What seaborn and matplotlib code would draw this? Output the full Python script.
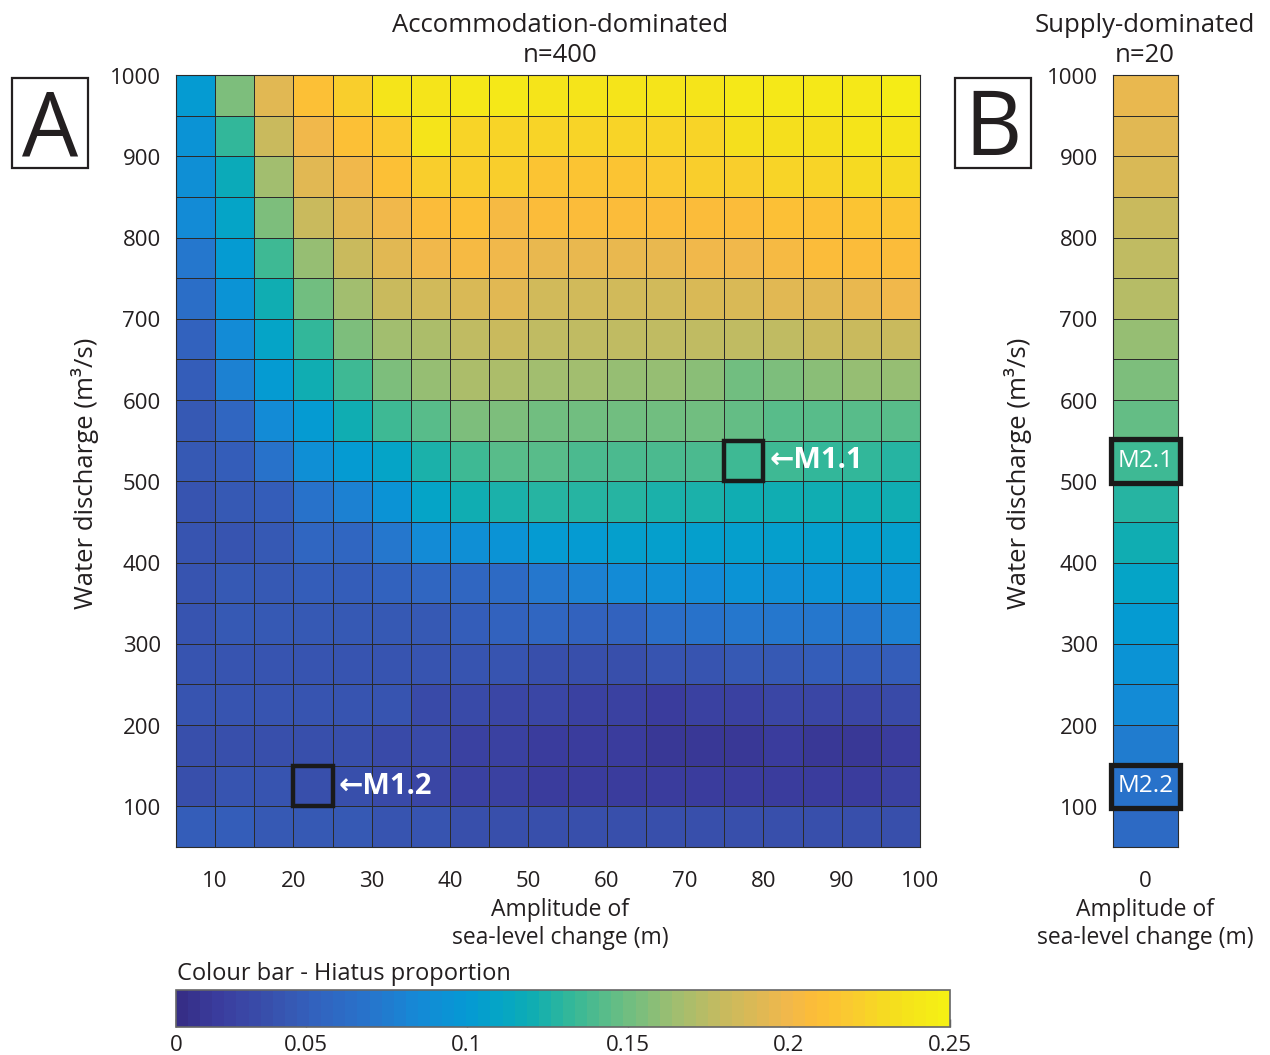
import numpy as np
import pandas as pd
import matplotlib
matplotlib.use("Agg")
import matplotlib.pyplot as plt
import matplotlib.transforms as mtransforms
from matplotlib.colors import LinearSegmentedColormap
from matplotlib.patches import Rectangle
import seaborn as sns

# ---------------- data ----------------
amplitude_edges = [5, 10, 15, 20, 25, 30, 35, 40, 45, 50, 55, 60, 65, 70, 75, 80, 85, 90, 95, 100]
discharge_edges = [1000, 950, 900, 850, 800, 750, 700, 650, 600, 550, 500, 450, 400, 350, 300, 250, 200, 150, 100, 50]
amplitude_ticks = [10, 20, 30, 40, 50, 60, 70, 80, 90, 100]
discharge_ticks = [1000, 900, 800, 700, 600, 500, 400, 300, 200, 100]

# Hiatus proportion, panel A (rows: 1000 -> 50 m3/s, cols: 5 -> 100 m)
hiatus_A = [
    [0.100, 0.155, 0.190, 0.210, 0.222, 0.235, 0.236, 0.240, 0.240, 0.238, 0.237, 0.236, 0.237, 0.238, 0.240, 0.240, 0.240, 0.241, 0.245],
    [0.093, 0.132, 0.180, 0.200, 0.210, 0.218, 0.235, 0.226, 0.226, 0.225, 0.226, 0.226, 0.226, 0.226, 0.232, 0.234, 0.234, 0.236, 0.238],
    [0.090, 0.115, 0.167, 0.190, 0.200, 0.210, 0.220, 0.220, 0.220, 0.215, 0.215, 0.216, 0.218, 0.220, 0.222, 0.224, 0.225, 0.228, 0.230],
    [0.085, 0.110, 0.155, 0.180, 0.190, 0.200, 0.205, 0.210, 0.203, 0.205, 0.205, 0.205, 0.208, 0.208, 0.208, 0.210, 0.212, 0.214, 0.215],
    [0.070, 0.103, 0.137, 0.163, 0.180, 0.190, 0.200, 0.202, 0.200, 0.196, 0.196, 0.196, 0.197, 0.198, 0.200, 0.202, 0.205, 0.205, 0.205],
    [0.065, 0.093, 0.120, 0.150, 0.167, 0.180, 0.183, 0.188, 0.190, 0.186, 0.185, 0.185, 0.186, 0.187, 0.188, 0.190, 0.193, 0.195, 0.198],
    [0.052, 0.085, 0.108, 0.132, 0.155, 0.167, 0.170, 0.177, 0.180, 0.176, 0.175, 0.175, 0.175, 0.176, 0.177, 0.178, 0.179, 0.180, 0.182],
    [0.048, 0.078, 0.100, 0.120, 0.137, 0.155, 0.163, 0.168, 0.170, 0.167, 0.165, 0.163, 0.160, 0.158, 0.152, 0.155, 0.157, 0.160, 0.163],
    [0.044, 0.058, 0.085, 0.103, 0.120, 0.137, 0.143, 0.155, 0.155, 0.152, 0.152, 0.152, 0.152, 0.150, 0.146, 0.142, 0.142, 0.143, 0.143],
    [0.044, 0.050, 0.066, 0.090, 0.100, 0.110, 0.125, 0.137, 0.143, 0.143, 0.141, 0.140, 0.140, 0.138, 0.137, 0.135, 0.132, 0.130, 0.127],
    [0.043, 0.045, 0.050, 0.066, 0.078, 0.093, 0.110, 0.120, 0.125, 0.128, 0.128, 0.127, 0.126, 0.125, 0.122, 0.120, 0.120, 0.120, 0.120],
    [0.043, 0.043, 0.047, 0.056, 0.058, 0.070, 0.085, 0.090, 0.093, 0.100, 0.103, 0.104, 0.104, 0.104, 0.105, 0.105, 0.105, 0.105, 0.105],
    [0.043, 0.044, 0.046, 0.049, 0.049, 0.051, 0.056, 0.058, 0.062, 0.070, 0.078, 0.085, 0.090, 0.088, 0.093, 0.092, 0.093, 0.093, 0.093],
    [0.041, 0.044, 0.045, 0.046, 0.046, 0.046, 0.046, 0.048, 0.054, 0.056, 0.051, 0.054, 0.065, 0.066, 0.070, 0.070, 0.072, 0.073, 0.078],
    [0.041, 0.042, 0.042, 0.042, 0.042, 0.042, 0.042, 0.042, 0.040, 0.038, 0.036, 0.036, 0.040, 0.042, 0.045, 0.047, 0.048, 0.050, 0.050],
    [0.040, 0.042, 0.042, 0.042, 0.042, 0.041, 0.035, 0.033, 0.030, 0.029, 0.027, 0.026, 0.024, 0.027, 0.028, 0.029, 0.030, 0.032, 0.034],
    [0.039, 0.039, 0.039, 0.039, 0.037, 0.035, 0.033, 0.028, 0.026, 0.023, 0.021, 0.021, 0.020, 0.020, 0.020, 0.021, 0.020, 0.020, 0.021],
    [0.039, 0.040, 0.040, 0.039, 0.038, 0.035, 0.030, 0.028, 0.026, 0.023, 0.022, 0.021, 0.021, 0.021, 0.021, 0.021, 0.022, 0.023, 0.025],
    [0.050, 0.048, 0.046, 0.046, 0.044, 0.042, 0.040, 0.038, 0.037, 0.037, 0.037, 0.036, 0.037, 0.037, 0.037, 0.038, 0.038, 0.039, 0.039],
]

# Hiatus proportion, panel B (amplitude 0 m, rows 1000 -> 50 m3/s)
amplitude_B = ["0"]
hiatus_B = [0.195, 0.192, 0.188, 0.182, 0.178, 0.172, 0.163, 0.155, 0.148, 0.137,
            0.127, 0.120, 0.110, 0.100, 0.093, 0.085, 0.077, 0.068, 0.060]

cbar_ticks = [0.0096, 0.05, 0.10, 0.15, 0.20, 0.25]
cbar_labels = ["0", "0.05", "0.1", "0.15", "0.2", "0.25"]

# ---------------- style ----------------
sns.set_theme(style="white")
plt.rcParams["font.family"] = ["Open Sans", "DejaVu Sans"]
TXT = "#231f20"

anchor_pos = [0.0, 0.05, 0.12, 0.17, 0.25, 0.31, 0.375, 0.42, 0.46, 0.51, 0.58,
              0.645, 0.71, 0.79, 0.83, 0.875, 0.94, 1.0]
anchor_col = [(0.21, 0.18, 0.53), (0.23, 0.24, 0.62), (0.22, 0.32, 0.68), (0.20, 0.38, 0.74),
              (0.15, 0.46, 0.80), (0.08, 0.54, 0.84), (0.02, 0.60, 0.83), (0.02, 0.65, 0.77),
              (0.06, 0.68, 0.70), (0.20, 0.72, 0.60), (0.42, 0.745, 0.51), (0.62, 0.745, 0.44),
              (0.78, 0.73, 0.37), (0.94, 0.72, 0.30), (0.99, 0.74, 0.22), (0.98, 0.79, 0.19),
              (0.96, 0.88, 0.11), (0.96, 0.94, 0.08)]
cmap = LinearSegmentedColormap.from_list("parula_print", list(zip(anchor_pos, anchor_col)), N=64)
vmin, vmax = cbar_ticks[0], cbar_ticks[-1]

W, H = 1270, 1055
fig = plt.figure(figsize=(W / 100, H / 100), dpi=100)
fig.patch.set_facecolor("white")


def rect(l, t, r, b):
    return [l / W, 1 - b / H, (r - l) / W, (b - t) / H]


def fy(y):
    return 1 - y / H


dfA = pd.DataFrame(hiatus_A, index=discharge_edges[1:], columns=amplitude_edges[:-1])
dfB = pd.DataFrame({amplitude_B[0]: hiatus_B}, index=discharge_edges[1:])

axA = fig.add_axes(rect(176, 75, 920, 847))
cax = fig.add_axes(rect(176, 990, 950, 1027))
axB = fig.add_axes(rect(1113, 75, 1178, 847))

sns.heatmap(dfA, ax=axA, cmap=cmap, vmin=vmin, vmax=vmax, linewidths=0.7,
            linecolor="#2b2b2b", cbar_ax=cax, cbar_kws=dict(orientation="horizontal"))
sns.heatmap(dfB, ax=axB, cmap=cmap, vmin=vmin, vmax=vmax, linewidths=0.7,
            linecolor="#2b2b2b", cbar=False)

# ticks at cell boundaries, derived from the edge arrays
xpos = np.interp(amplitude_ticks, amplitude_edges, np.arange(len(amplitude_edges)))
ypos = np.interp(discharge_ticks, discharge_edges[::-1], np.arange(len(discharge_edges))[::-1])

shift_down = mtransforms.ScaledTranslation(0, -3 / 100, fig.dpi_scale_trans)
for ax in (axA, axB):
    ax.set_yticks(ypos)
    ax.set_yticklabels([str(v) for v in discharge_ticks], rotation=0)
    ax.set_xlabel("")
    ax.set_ylabel("")
    ax.tick_params(length=0, labelsize=16, labelcolor=TXT)
    ax.tick_params(axis="x", pad=17)
    ax.tick_params(axis="y", pad=11)
    for lab in ax.get_yticklabels():
        lab.set_transform(lab.get_transform() + shift_down)
    for s in ax.spines.values():
        s.set_visible(True)
        s.set_color("#2b2b2b")
        s.set_linewidth(0.8)

axA.set_xticks(xpos)
axA.set_xticklabels([str(v) for v in amplitude_ticks], rotation=0)
axB.set_xticks([0.5])
axB.set_xticklabels(amplitude_B, rotation=0)

# colour bar
cb = axA.collections[0].colorbar
cb.set_ticks(cbar_ticks, labels=cbar_labels)
cb.outline.set_linewidth(1.2)
cb.outline.set_edgecolor("#666666")
cax.tick_params(axis="x", direction="in", length=6, width=1, color="#555555",
                labelsize=16, labelcolor=TXT, pad=6, bottom=True, top=False)
fig.text(177 / W, fy(974), "Colour bar - Hiatus proportion", fontsize=17,
         color=TXT, ha="left", va="center")

# highlighted runs
def box(ax, col, row, dx=0.0, dy=0.0, lw=3.2):
    ax.add_patch(Rectangle((col - dx, row - dy), 1 + 2 * dx, 1 + 2 * dy, fill=False,
                           ec="#1a1a1a", lw=lw, zorder=6, clip_on=False))

box(axA, 14, 9)
axA.text(15.15, 9.5, "←M1.1", color="white", fontsize=21, fontweight="bold",
         ha="left", va="center", zorder=7)
box(axA, 3, 17)
axA.text(4.15, 17.5, "←M1.2", color="white", fontsize=21, fontweight="bold",
         ha="left", va="center", zorder=7)

box(axB, 0, 9, dx=0.03, dy=0.03, lw=3.8)
axB.text(0.5, 9.5, "M2.1", color="white", fontsize=17.5, ha="center", va="center", zorder=7)
box(axB, 0, 17, dx=0.03, dy=0.03, lw=3.8)
axB.text(0.5, 17.5, "M2.2", color="white", fontsize=17.5, ha="center", va="center", zorder=7)

# titles and axis labels
fig.text(560 / W, fy(25), "Accommodation-dominated", fontsize=18.5, color=TXT, ha="center", va="center")
fig.text(560 / W, fy(55), "n=400", fontsize=18.5, color=TXT, ha="center", va="center")
fig.text(1145 / W, fy(25), "Supply-dominated", fontsize=18.5, color=TXT, ha="center", va="center")
fig.text(1145 / W, fy(55), "n=20", fontsize=18.5, color=TXT, ha="center", va="center")

fig.text(560 / W, fy(924), "Amplitude of\nsea-level change (m)", fontsize=16.5, color=TXT,
         ha="center", va="center", linespacing=1.25)
fig.text(1145 / W, fy(924), "Amplitude of\nsea-level change (m)", fontsize=16.5, color=TXT,
         ha="center", va="center", linespacing=1.25)
fig.text(85 / W, fy(473), "Water discharge (m³/s)", fontsize=18.5, color=TXT,
         rotation=90, ha="center", va="center")
fig.text(1018 / W, fy(473), "Water discharge (m³/s)", fontsize=18.5, color=TXT,
         rotation=90, ha="center", va="center")

# panel letters
for x0, letter in ((12, "A"), (955, "B")):
    fig.add_artist(Rectangle((x0 / W, fy(168)), 76 / W, 90 / H, transform=fig.transFigure,
                             fill=False, ec=TXT, lw=1.6))
    fig.text((x0 + 38) / W, fy(155), letter, fontsize=64, color=TXT, ha="center", va="baseline")

fig.savefig("out.png", dpi=100, facecolor="white")
